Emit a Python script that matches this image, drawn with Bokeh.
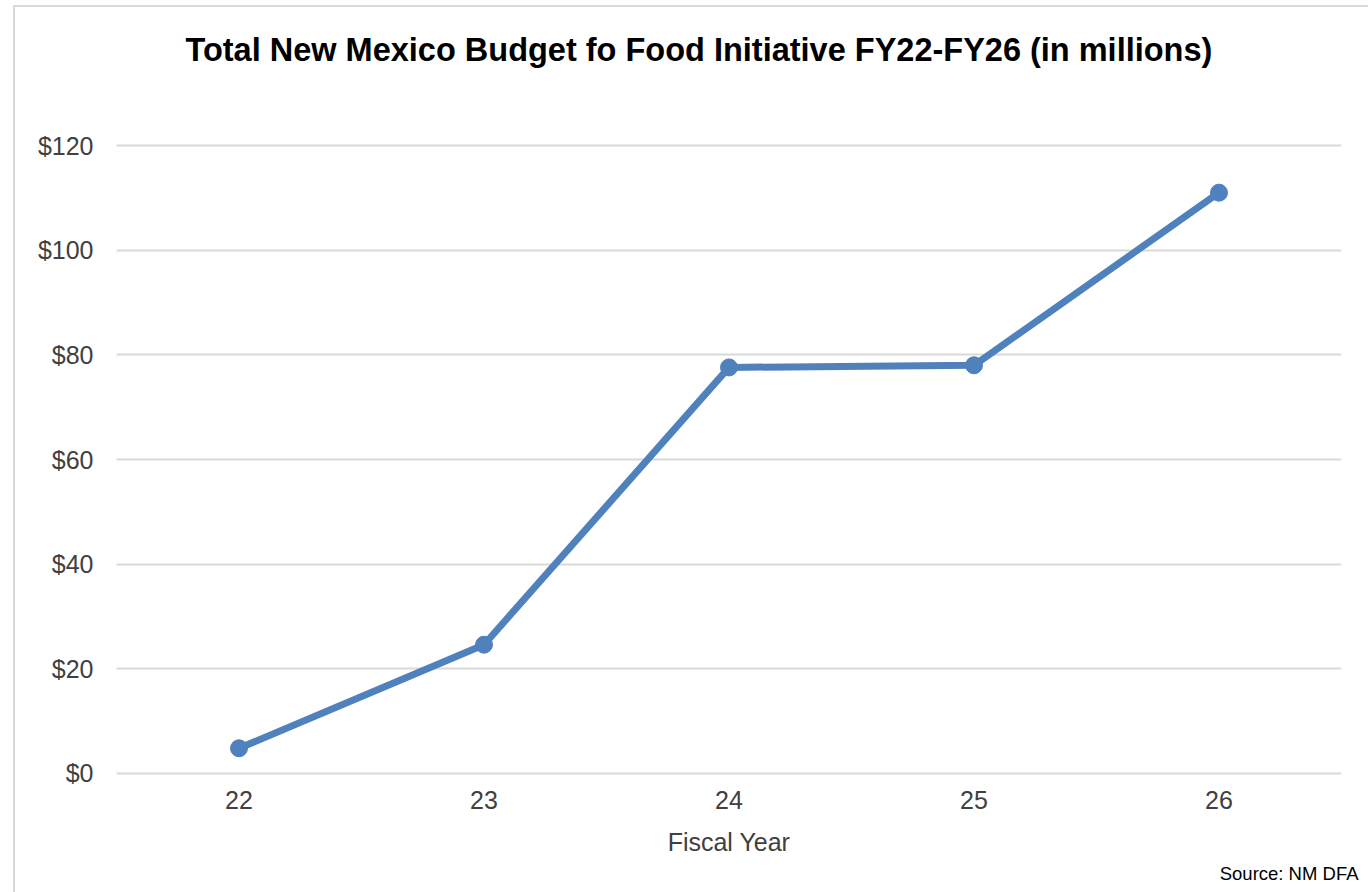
from bokeh.plotting import figure
from bokeh.models import Range1d, FactorRange, Title, NumeralTickFormatter
from bokeh.embed import file_html
from bokeh.resources import INLINE

years = ["22", "23", "24", "25", "26"]
budget = [4.8, 24.6, 77.6, 78.0, 111.0]
y_ticks = [0, 20, 40, 60, 80, 100, 120]

title_text = "Total New Mexico Budget fo Food Initiative FY22-FY26 (in millions)"
x_label = "Fiscal Year"
source_text = "Source: NM DFA"

FONT = "Liberation Sans"
BLUE = "#4f81bd"
GRID = "#d9d9d9"
TXT = "#404040"

p = figure(width=1355, height=887, x_range=FactorRange(*years), y_range=Range1d(-0.4, 120.4),
           output_backend="svg", toolbar_location=None, title=None,
           min_border_left=101, min_border_right=29, min_border_top=136, min_border_bottom=119)
p.margin = (5, 0, 0, 13)
p.styles = {"border-left": "2px solid #d9d9d9", "border-top": "2px solid #d9d9d9"}
p.outline_line_color = None
p.background_fill_color = "white"
p.border_fill_color = "white"

p.line(years, budget, line_color=BLUE, line_width=7)
p.scatter(years, budget, size=17, fill_color=BLUE, line_color=BLUE)

p.xgrid.grid_line_color = None
p.ygrid.grid_line_color = GRID
p.ygrid.grid_line_width = 2
p.yaxis.ticker = y_ticks
p.yaxis.formatter = NumeralTickFormatter(format="$0")

for ax in (p.xaxis[0], p.yaxis[0]):
    ax.axis_line_color = None
    ax.major_tick_line_color = None
    ax.minor_tick_line_color = None
    ax.major_tick_in = 0
    ax.major_tick_out = 0
    ax.major_label_text_font = FONT
    ax.major_label_text_font_size = "25px"
    ax.major_label_text_color = TXT

p.yaxis.major_label_standoff = 23
p.xaxis.major_label_standoff = 15
p.xaxis.axis_label = x_label
p.xaxis.axis_label_text_font = FONT
p.xaxis.axis_label_text_font_size = "25px"
p.xaxis.axis_label_text_font_style = "normal"
p.xaxis.axis_label_text_color = TXT
p.xaxis.axis_label_standoff = 16

# spacer between title and plot area
p.add_layout(Title(text=" ", text_font_size="1px", standoff=68), "above")
p.add_layout(Title(text=title_text, text_font=FONT, text_font_size="32.5px",
                   text_font_style="bold", text_color="black", align="left",
                   offset=69, standoff=10), "above")
p.add_layout(Title(text=source_text, text_font=FONT, text_font_size="18.5px",
                   text_font_style="normal", text_color="black", align="right",
                   offset=-17, standoff=4), "below")

open("out.html", "w").write(file_html(p, INLINE))
